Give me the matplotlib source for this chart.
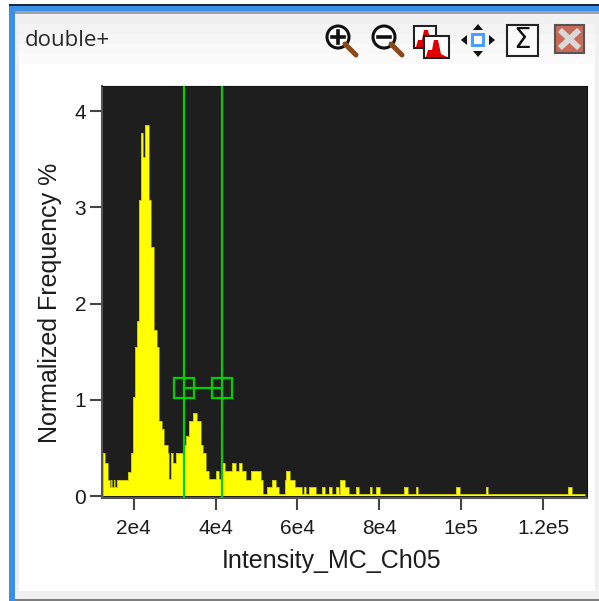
"""Recreate the double+ intensity histogram panel (Intensity_MC_Ch05)."""
import matplotlib
matplotlib.use("Agg")
import matplotlib.pyplot as plt
from matplotlib.patches import Circle, Polygon, Rectangle

# histogram outline
bin_edges = [
    12450, 12930, 13810, 14220, 14590, 14830, 15200, 15440, 15930, 18730, 19460, 19760,
    20240, 20730, 21360, 21780, 22270, 22750, 23730, 24220, 25070, 25680, 26240, 26820,
    27460, 28290, 28600, 29090, 29650, 30310, 32090, 32750, 33480, 34530, 35350, 36330,
    36960, 37790, 38420, 40230, 40790, 41450, 42250, 44130, 44930, 45740, 46470, 47540,
    48590, 51020, 51580, 52560, 53830, 54850, 55480, 56870, 57290, 58260, 59310, 61190,
    61580, 62160, 62790, 64600, 66060, 66690, 67600, 68500, 69470, 70030, 70450, 71490,
    72470, 74350, 74910, 77760, 78320, 79290, 80190, 86120, 87020, 88970, 89530, 98790,
    99760, 106100, 106590, 126080, 126980, 130230,
]
freq = [
    0.45, 0.34, 0.17, 0.09, 0.17, 0.09, 0.17, 0.09, 0.17, 0.25, 0.45, 1.03,
    1.55, 1.82, 3.08, 3.77, 3.52, 3.85, 3.08, 2.59, 1.72, 1.55, 0.78, 0.70,
    0.53, 0.45, 0.18, 0.45, 0.34, 0.45, 0.53, 0.62, 0.78, 0.86, 0.78, 0.53,
    0.45, 0.26, 0.18, 0.26, 0.18, 0.34, 0.26, 0.34, 0.26, 0.34, 0.26, 0.17,
    0.26, 0.17, 0.02, 0.09, 0.17, 0.09, 0.02, 0.17, 0.26, 0.17, 0.09, 0.02,
    0.09, 0.02, 0.09, 0.02, 0.09, 0.02, 0.09, 0.02, 0.09, 0.02, 0.17, 0.09,
    0.02, 0.09, 0.02, 0.09, 0.02, 0.09, 0.02, 0.09, 0.02, 0.09, 0.02, 0.09,
    0.02, 0.09, 0.02, 0.09, 0.02,
]
gate_x = [32260, 41520]
gate_y = 1.12
xticks = [20000, 40000, 60000, 80000, 100000, 120000]
xtick_labels = ["2e4", "4e4", "6e4", "8e4", "1e5", "1.2e5"]
yticks = [0, 1, 2, 3, 4]
title = "double+"
xlabel = "Intensity_MC_Ch05"
ylabel = "Normalized Frequency %"

W, H = 599, 601
GREEN = "#00d000"
TEXT = "#1c1c1c"
plt.rcParams["font.family"] = ["Liberation Sans", "DejaVu Sans"]

fig = plt.figure(figsize=(W / 100, H / 100), dpi=100, facecolor="white")

# window chrome sits on a full-figure axes in pixel coordinates
bg = fig.add_axes([0, 0, 1, 1])
bg.set_xlim(0, W)
bg.set_ylim(H, 0)
bg.axis("off")


def box(x, y, w, h, color, **kw):
    bg.add_patch(Rectangle((x, y), w, h, facecolor=color, edgecolor="none", **kw))


box(0, 0, W, H, "white")
box(9, 4, W - 9, 2, "#1a2a3a")
box(9, 6, W - 9, 5, "#3b8ee6")
box(9, 6, 6, H - 6, "#3b8ee6")
box(15, 11, W - 15, 3, "#9aa4ae")
box(15, 14, W - 15, H - 14, "#f0f0f0")
for i, c in enumerate(["#f0f0f0", "#f3f3f3", "#f6f6f6", "#f9f9f9", "#fbfbfb"]):
    box(19, 14 + i * 10, 576, 10, c)
box(19, 64, 576, 527, "white")
box(15, 599, W - 15, 2, "#7d7d7d")
bg.text(25, 40, title, fontsize=16, family="Open Sans", color="#2a2a2a", va="center", ha="left")


def magnifier(cx, cy, plus):
    bg.plot([cx + 7, cx + 18], [cy + 7, cy + 18], color="#8a4a1c", lw=3.6, solid_capstyle="round")
    bg.add_patch(Circle((cx, cy), 11, facecolor="white", edgecolor="#111111", lw=2.2))
    bg.plot([cx - 6, cx + 6], [cy, cy], color="#111111", lw=2.6)
    if plus:
        bg.plot([cx, cx], [cy - 6, cy + 6], color="#111111", lw=2.6)


def mini_hist(x, y, w, h):
    bg.add_patch(Rectangle((x, y), w, h, facecolor="white", edgecolor="#222222", lw=1.5))
    bg.add_patch(Polygon([(x + 2, y + h - 1), (x + 4, y + h - 8), (x + 8, y + h - 8), (x + 10, y + h - 18),
                          (x + 14, y + h - 18), (x + 17, y + h - 4), (x + w - 2, y + h - 1)],
                         facecolor="#e00000", edgecolor="none"))


magnifier(338, 37, True)
magnifier(384, 37, False)
mini_hist(414, 26, 22, 22)
mini_hist(424, 36, 25, 22)
box(471, 33, 14, 14, "#4a9eff")
box(474, 36, 8, 8, "white")
for pts in ([(478, 24), (473, 30), (483, 30)], [(478, 57), (473, 51), (483, 51)],
            [(461, 40), (467, 35), (467, 45)], [(495, 40), (489, 35), (489, 45)]):
    bg.add_patch(Polygon(pts, facecolor="#111111", edgecolor="none"))
bg.add_patch(Rectangle((507, 25), 31, 31, facecolor="#fafafa", edgecolor="#222222", lw=1.5))
bg.text(522.5, 40, "\u03a3", fontsize=20, family="DejaVu Sans", color="#111111", ha="center", va="center")
bg.add_patch(Rectangle((555, 25), 29, 28, facecolor="#c96a58", edgecolor="#555555", lw=1.5))
bg.plot([562, 577], [32, 46], color="#d8d8d8", lw=4.2)
bg.plot([562, 577], [46, 32], color="#d8d8d8", lw=4.2)

# histogram axes
ax = fig.add_axes([102 / W, 1 - 497.5 / H, (587 - 102) / W, (497.5 - 86) / H], facecolor="#1e1e1e")
ax.stairs(freq, bin_edges, fill=True, color="#ffff00", zorder=2)
ax.stairs(freq, bin_edges, color="#b0b010", lw=0.5, zorder=3)
for gx in gate_x:
    ax.axvline(gx, color=GREEN, lw=1.6, zorder=4)
ax.plot(gate_x, [gate_y, gate_y], color=GREEN, lw=1.6, zorder=4)
ax.plot(gate_x, [gate_y, gate_y], ls="none", marker="s", ms=14, mfc="none", mec=GREEN, mew=1.6, zorder=4)

ax.set_xlim(12275, 130700)
ax.set_ylim(-0.015, 4.26)
ax.set_xticks(xticks, xtick_labels)
ax.set_yticks(yticks)
ax.tick_params(axis="both", length=8.5, width=1.5, color="#444444", labelsize=15, labelcolor=TEXT)
ax.tick_params(axis="x", pad=7)
ax.tick_params(axis="y", pad=3)
for side in ("top", "right"):
    ax.spines[side].set_color("#111111")
for side in ("left", "bottom"):
    ax.spines[side].set_color("#555555")
    ax.spines[side].set_linewidth(1.5)
ax.set_xlabel(xlabel, fontsize=18, color=TEXT)
ax.set_ylabel(ylabel, fontsize=18, color=TEXT)
ax.xaxis.set_label_coords((332 - 102) / 485, -(561 - 497.5) / 411.5, transform=ax.transAxes)
ax.xaxis.label.set_va("center")
ax.yaxis.set_label_coords((50 - 102) / 485, (497.5 - 303) / 411.5, transform=ax.transAxes)
ax.yaxis.label.set_va("center")

fig.savefig("out.png", dpi=100)
